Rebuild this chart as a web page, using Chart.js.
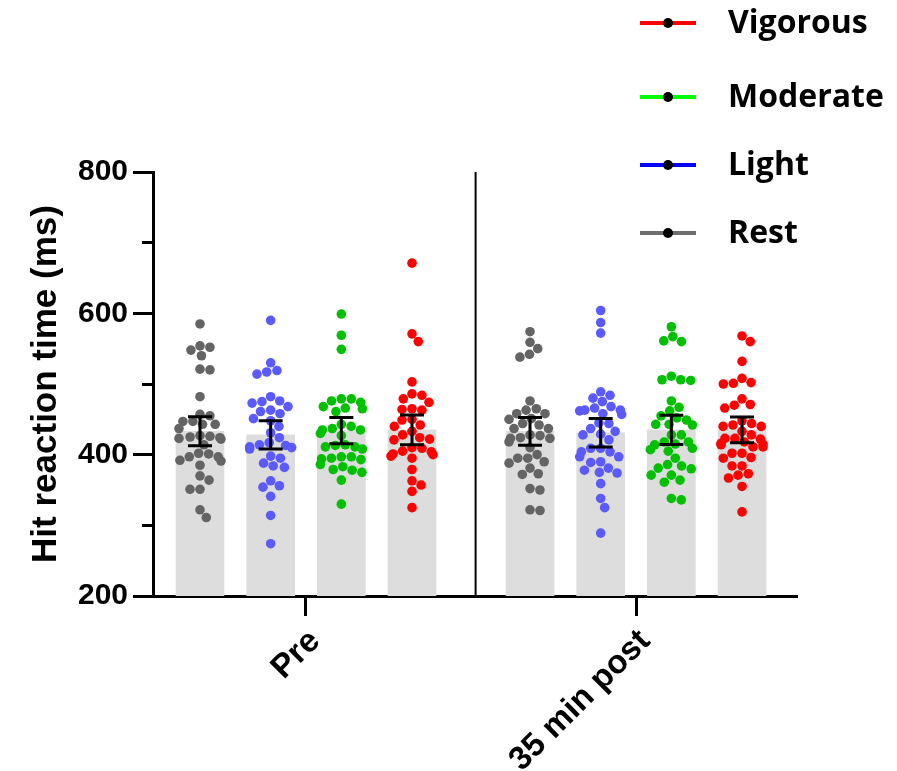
<!doctype html>
<html lang="en">
<head>
<meta charset="utf-8">
<title>Hit reaction time</title>
<style>
  html, body { margin: 0; padding: 0; background: #fff; }
  canvas { display: block; }
</style>
</head>
<body>
<canvas id="myChart" width="897" height="771"></canvas>

<script src="https://cdn.jsdelivr.net/npm/chart.js"></script>
<script>
// groups on the x axis and conditions inside each group
const timepoints = ['Pre', '35 min post'];
const conditions = ['Rest', 'Light', 'Moderate', 'Vigorous'];
const dotColors = ['#646464', '#5a5aff', '#00c000', '#ff0000'];
const legendColors = ['#6e6e6e', '#0000ff', '#00ff00', '#ff0000'];

// bar height = mean, whiskers = SEM
const meanPre = [433, 428, 434, 435];
const meanPost = [433, 431, 435, 435];
const semPre = [20.5, 20, 18.7, 21];
const semPost = [19.7, 20.3, 20.7, 18.2];

// individual participants (ms)
const restPre = [585, 554, 552, 548, 540, 521, 520, 482, 457, 455, 447, 447, 443, 443, 437, 427, 426, 425, 424, 423, 422, 414, 402, 401, 397, 397, 392, 391, 385, 370, 364, 351, 351, 322, 311];
const lightPre = [590, 530, 519, 517, 514, 482, 476, 475, 473, 468, 463, 461, 458, 451, 448, 440, 431, 424, 417, 414, 413, 411, 410, 408, 398, 395, 388, 384, 382, 363, 356, 354, 341, 314, 274];
const modPre = [599, 569, 549, 479, 479, 476, 474, 468, 466, 465, 461, 443, 440, 437, 435, 435, 430, 427, 414, 413, 411, 411, 408, 397, 397, 395, 394, 393, 386, 383, 379, 378, 375, 364, 330];
const vigPre = [671, 571, 560, 503, 486, 484, 479, 474, 465, 464, 463, 450, 449, 442, 440, 433, 428, 424, 422, 421, 410, 409, 405, 404, 401, 400, 398, 395, 379, 363, 357, 348, 325];

const restPost = [574, 559, 550, 542, 538, 476, 465, 463, 458, 458, 451, 450, 444, 442, 437, 437, 428, 427, 424, 423, 423, 418, 410, 400, 395, 395, 390, 388, 381, 373, 372, 352, 350, 322, 321];
const lightPost = [604, 587, 572, 489, 484, 480, 475, 468, 466, 463, 463, 462, 458, 457, 445, 444, 437, 433, 429, 428, 421, 409, 409, 404, 404, 397, 397, 390, 389, 381, 378, 375, 374, 359, 338, 325, 289];
const modPost = [581, 567, 561, 560, 511, 506, 506, 505, 476, 467, 462, 455, 452, 449, 443, 443, 442, 428, 428, 418, 418, 415, 414, 409, 407, 405, 395, 386, 384, 381, 380, 371, 371, 364, 361, 338, 336];
const vigPost = [568, 560, 532, 508, 502, 501, 500, 479, 471, 470, 466, 448, 444, 442, 440, 440, 433, 428, 423, 423, 422, 418, 416, 415, 414, 411, 411, 402, 402, 396, 395, 384, 384, 373, 371, 367, 355, 319];

const yMajorTicks = [200, 400, 600, 800];
const yMinorTicks = [300, 500, 700];

const means = [meanPre, meanPost];
const sems = [semPre, semPost];
const series = [
    [restPre, restPost],
    [lightPre, lightPost],
    [modPre, modPost],
    [vigPre, vigPost]
];

// layout on the linear x axis: one unit per bar
const groupX = [2.5, 7.17];
const dividerX = 4.9;
const barX = (g, c) => groupX[g] + (c - 1.5);

const fontFamily = "'Liberation Sans', Arial, sans-serif";

const barPoints = [];
timepoints.forEach((t, g) => {
    conditions.forEach((c, i) => barPoints.push({ x: barX(g, i), y: means[g][i] }));
});

// whiskers drawn on top of the dots
const errorBars = {
    id: 'errorBars',
    afterDatasetsDraw(chart) {
        const { ctx, scales: { x, y } } = chart;
        ctx.save();
        ctx.strokeStyle = '#000';
        ctx.lineWidth = 3;
        timepoints.forEach((t, g) => {
            conditions.forEach((c, i) => {
                const px = x.getPixelForValue(barX(g, i));
                const top = y.getPixelForValue(means[g][i] + sems[g][i]);
                const bot = y.getPixelForValue(means[g][i] - sems[g][i]);
                ctx.beginPath();
                ctx.moveTo(px, top); ctx.lineTo(px, bot);
                ctx.moveTo(px - 12, top); ctx.lineTo(px + 12, top);
                ctx.moveTo(px - 12, bot); ctx.lineTo(px + 12, bot);
                ctx.stroke();
            });
        });
        ctx.restore();
    }
};

// legend column in the top right corner, strongest condition first
const legendRows = [23, 97, 165, 233];
const cornerLegend = {
    id: 'cornerLegend',
    afterDraw(chart) {
        const ctx = chart.ctx;
        ctx.save();
        ctx.font = "bold 32px 'Open Sans', sans-serif";
        ctx.textBaseline = 'middle';
        [3, 2, 1, 0].forEach((c, row) => {
            const ly = legendRows[row];
            ctx.strokeStyle = legendColors[c];
            ctx.lineWidth = 4;
            ctx.beginPath();
            ctx.moveTo(640, ly); ctx.lineTo(696, ly);
            ctx.stroke();
            ctx.fillStyle = '#000';
            ctx.beginPath();
            ctx.arc(668, ly, 5, 0, Math.PI * 2);
            ctx.fill();
            ctx.fillText(conditions[c], 728, ly + 1);
        });
        ctx.restore();
    }
};

const dotSets = series.map((pair, c) => ({
    type: 'scatter',
    label: conditions[c],
    data: pair.flatMap((vals, g) => vals.map(v => ({ x: barX(g, c), y: v }))),
    backgroundColor: dotColors[c],
    borderWidth: 0,
    pointRadius: 4.8,
    order: 2
}));

const config = {
    data: {
        datasets: [
            {
                type: 'bar',
                data: barPoints,
                backgroundColor: '#dddddd',
                barThickness: 48,
                order: 5
            },
            ...dotSets,
            {
                type: 'line',
                data: [{ x: dividerX, y: 200 }, { x: dividerX, y: 800 }],
                borderColor: '#000',
                borderWidth: 2,
                pointRadius: 0,
                order: 1
            }
        ]
    },
    options: {
        responsive: false,
        animation: false,
        events: [],
        layout: { padding: { top: 172, right: 100, left: 0, bottom: 0 } },
        plugins: {
            legend: { display: false },
            tooltip: { enabled: false }
        },
        scales: {
            x: {
                type: 'linear',
                offset: false,
                min: 0.335,
                max: 9.448,
                afterBuildTicks: (s) => { s.ticks = groupX.map(v => ({ value: v })); },
                afterFit: (s) => { s.height = 175; },
                ticks: {
                    callback: (v, i) => timepoints[i],
                    autoSkip: false,
                    minRotation: 45,
                    maxRotation: 45,
                    padding: 6,
                    labelOffset: 9,
                    color: '#000',
                    font: { family: fontFamily, size: 33, weight: 'bold' }
                },
                grid: { offset: false, drawOnChartArea: false, tickLength: 20, tickWidth: 3, tickColor: '#000' },
                border: { color: '#000', width: 3 }
            },
            y: {
                type: 'linear',
                position: 'left',
                weight: 1,
                min: 200,
                max: 800,
                afterBuildTicks: (s) => { s.ticks = yMajorTicks.map(v => ({ value: v })); },
                afterFit: (s) => { s.width = 153; },
                ticks: { padding: 5, color: '#000', font: { family: fontFamily, size: 30, weight: 'bold' } },
                grid: { drawOnChartArea: false, tickLength: 20, tickWidth: 3, tickColor: '#000' },
                border: { color: '#000', width: 3 },
                title: {
                    display: true,
                    text: 'Hit reaction time (ms)',
                    color: '#000',
                    font: { family: fontFamily, size: 35, weight: 'bold' },
                    padding: { top: 25, bottom: 0 }
                }
            },
            yMinor: {
                type: 'linear',
                position: 'left',
                weight: 0,
                min: 200,
                max: 800,
                afterBuildTicks: (s) => { s.ticks = yMinorTicks.map(v => ({ value: v })); },
                afterFit: (s) => { s.width = 0; },
                ticks: { display: false },
                grid: { drawOnChartArea: false, tickLength: 11, tickWidth: 3, tickColor: '#000' },
                border: { display: false }
            }
        }
    },
    plugins: [errorBars, cornerLegend]
};

// spread each column of dots sideways so they do not overlap
function swarmOffsets(pys, d, maxOff) {
    const placed = [];
    const offs = new Array(pys.length);
    const order = pys.map((p, i) => i).sort((a, b) => pys[a] - pys[b]);
    order.forEach((i) => {
        const py = pys[i];
        const near = placed.filter(p => Math.abs(p.y - py) < d);
        const cands = [0];
        near.forEach((p) => {
            const dx = Math.sqrt(d * d - (p.y - py) * (p.y - py));
            cands.push(p.x + dx, p.x - dx);
        });
        cands.sort((a, b) => Math.abs(a) - Math.abs(b));
        let ox = cands.find(cx => near.every(p => (p.x - cx) ** 2 + (p.y - py) ** 2 >= d * d - 0.01));
        if (ox === undefined) ox = 0;
        ox = Math.max(-maxOff, Math.min(maxOff, ox));
        placed.push({ x: ox, y: py });
        offs[i] = ox;
    });
    return offs;
}

const spreadDots = (chart) => {
    const xs = chart.scales.x;
    const ys = chart.scales.y;
    series.forEach((pair, c) => {
        const pts = [];
        pair.forEach((vals, g) => {
            const cx = xs.getPixelForValue(barX(g, c));
            const offs = swarmOffsets(vals.map(v => ys.getPixelForValue(v)), 10, 21);
            vals.forEach((v, i) => pts.push({ x: xs.getValueForPixel(cx + offs[i]), y: v }));
        });
        chart.data.datasets[1 + c].data = pts;
    });
    chart.update('none');
};

const ctx = document.getElementById('myChart');
const chart = new Chart(ctx, config);
spreadDots(chart);
</script>
</body>
</html>
